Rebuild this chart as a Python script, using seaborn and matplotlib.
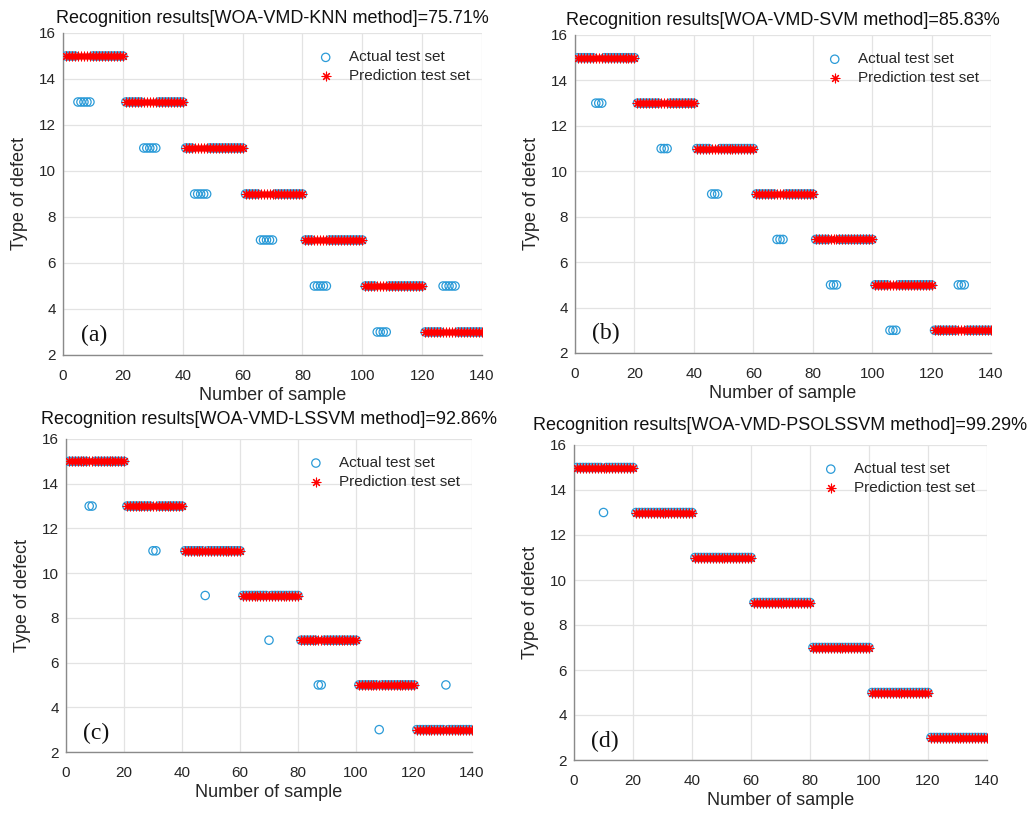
import numpy as np
import pandas as pd
import matplotlib
matplotlib.use("Agg")
import matplotlib.pyplot as plt
import seaborn as sns

# ---------------- data ----------------
classes = [15, 13, 11, 9, 7, 5, 3]          # defect type of each block of 20 samples
samples_per_class = 20
sample_no = np.arange(1, 141)
prediction = np.repeat(classes, samples_per_class)   # red stars

# samples whose blue circle departs from the block value
knn_err_samples = [5, 6, 7, 8, 9, 27, 28, 29, 30, 31, 44, 45, 46, 47, 48,
                   66, 67, 68, 69, 70, 84, 85, 86, 87, 88, 105, 106, 107, 108,
                   127, 128, 129, 130, 131]
knn_err_values = [13] * 5 + [11] * 5 + [9] * 5 + [7] * 5 + [5] * 5 + [3] * 4 + [5] * 5

svm_err_samples = [7, 8, 9, 29, 30, 31, 46, 47, 48, 68, 69, 70, 86, 87, 88,
                   106, 107, 108, 129, 130, 131]
svm_err_values = [13] * 3 + [11] * 3 + [9] * 3 + [7] * 3 + [5] * 3 + [3] * 3 + [5] * 3

lssvm_err_samples = [8, 9, 30, 31, 48, 70, 87, 88, 108, 131]
lssvm_err_values = [13, 13, 11, 11, 9, 7, 5, 5, 3, 5]

psolssvm_err_samples = [10]
psolssvm_err_values = [13]

titles = ["Recognition results[WOA-VMD-KNN method]=75.71%",
          "Recognition results[WOA-VMD-SVM method]=85.83%",
          "Recognition results[WOA-VMD-LSSVM method]=92.86%",
          "Recognition results[WOA-VMD-PSOLSSVM method]=99.29%"]
panel_tags = ["(a)", "(b)", "(c)", "(d)"]
x_ticks = [0, 20, 40, 60, 80, 100, 120, 140]
y_ticks = [2, 4, 6, 8, 10, 12, 14, 16]


def actual_series(err_samples, err_values):
    a = prediction.astype(float).copy()
    for s, v in zip(err_samples, err_values):
        a[s - 1] = v
    return a


actual_sets = [actual_series(knn_err_samples, knn_err_values),
               actual_series(svm_err_samples, svm_err_values),
               actual_series(lssvm_err_samples, lssvm_err_values),
               actual_series(psolssvm_err_samples, psolssvm_err_values)]

# ---------------- style ----------------
sns.set_theme(style="white")
plt.rcParams["font.family"] = ["Liberation Sans", "DejaVu Sans"]

W, H = 1035, 814
fig = plt.figure(figsize=(W / 100, H / 100), dpi=100)

# axes boxes in pixels: left, right, top, bottom
boxes = [(63, 482, 33, 355),
         (575, 991, 35, 353),
         (66, 472, 439, 752),
         (574, 987, 445, 760)]
title_pads = [7, 7, 11, 11]

blue = "#2b9bd8"
grey = "#8a8a8a"

for i, (l, r, t, b) in enumerate(boxes):
    ax = fig.add_axes([l / W, 1 - b / H, (r - l) / W, (b - t) / H])
    df = pd.DataFrame({"sample": sample_no,
                       "actual": actual_sets[i],
                       "pred": prediction})
    sns.scatterplot(data=df, x="sample", y="actual", ax=ax, marker="o",
                    s=36, color=blue, facecolor="none", edgecolor=blue,
                    linewidth=0.9, label="Actual test set", zorder=3)
    sns.scatterplot(data=df, x="sample", y="pred", ax=ax, marker=(8, 2, 0),
                    s=40, color="red", linewidth=0.8,
                    label="Prediction test set", zorder=4)
    ax.set_xlim(0, 140)
    ax.set_ylim(2, 16)
    ax.set_xticks(x_ticks)
    ax.set_yticks(y_ticks)
    ax.grid(True, color="#e3e3e3", linewidth=0.9)
    ax.set_axisbelow(True)
    for side in ["top", "right"]:
        ax.spines[side].set_visible(False)
    for side in ["left", "bottom"]:
        ax.spines[side].set_color(grey)
        ax.spines[side].set_linewidth(1.0)
    ax.tick_params(direction="in", length=4, width=0.9, color=grey,
                   labelsize=11, labelcolor="#262626")
    ax.tick_params(axis="x", pad=10)
    ax.tick_params(axis="y", pad=5)
    ax.set_xlabel("Number of sample", fontsize=13, color="#262626", labelpad=3)
    ax.set_ylabel("Type of defect", fontsize=13, color="#262626", labelpad=8)
    ax.set_title(titles[i], fontsize=13, color="#111111", pad=title_pads[i])
    ax.text(0.075, 0.06, panel_tags[i], transform=ax.transAxes,
            fontsize=17, family=["Liberation Serif", "DejaVu Serif"],
            ha="center", va="center", color="#111111")
    ax.legend(loc="upper right", bbox_to_anchor=(0.985, 0.965), frameon=False,
              fontsize=11, handlelength=1.2, handletextpad=0.9,
              labelspacing=0.3, borderaxespad=0, scatterpoints=1)

fig.savefig("out.png", dpi=100)
